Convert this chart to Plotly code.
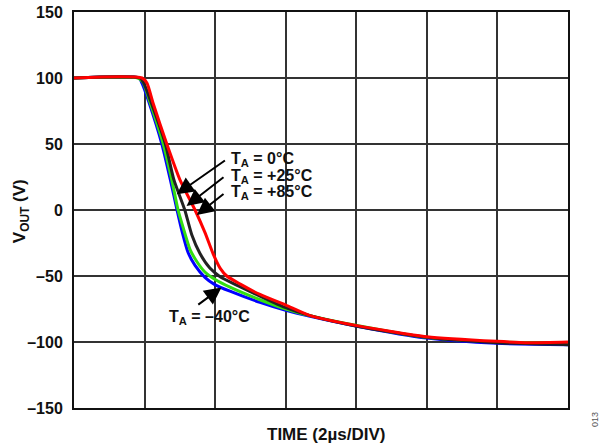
import plotly.graph_objects as go

# time in microseconds (2 µs per division), VOUT in volts
t_blue = [0, 1.84, 1.93, 2.12, 2.49, 2.73, 2.92, 3.06, 3.23, 3.43, 3.71, 3.99, 4.42, 5.27, 6.0, 6.69, 8.02, 10.0, 11.98, 14.0]
v_blue = [100, 100, 96, 82, 50, 23, 0, -16, -32, -42, -51, -56.5, -61.5, -70, -76, -80.5, -88, -97, -101, -102]

t_green = [0, 1.81, 1.95, 2.15, 2.53, 2.77, 2.95, 3.09, 3.29, 3.48, 3.71, 3.99, 4.42, 5.27, 6.0, 6.69, 8.02, 10.0, 11.98, 14.0]
v_green = [100, 100, 97, 82, 50, 23, 0, -13, -30, -39, -47, -52.5, -58.5, -68, -75, -80, -87.5, -96.5, -100, -101]

t_black = [0, 1.87, 1.98, 2.18, 2.59, 2.83, 3.14, 3.34, 3.57, 3.85, 4.14, 4.70, 6.0, 6.69, 8.02, 10.0, 11.98, 14.0]
v_black = [100, 100, 96, 82, 50, 23, 0, -19, -33, -44, -50.5, -58, -74, -80, -88, -96.5, -100.5, -102]

t_red = [0, 1.93, 2.07, 2.24, 2.63, 3.0, 3.43, 3.71, 3.94, 4.14, 4.33, 4.70, 5.27, 6.0, 6.69, 8.02, 10.0, 11.98, 12.9, 14.0]
v_red = [100, 100, 96, 81, 50, 23, 0, -17, -33, -44, -50, -56, -64, -72, -80, -87.6, -96, -99.5, -100.5, -100]

y_ticks = [150, 100, 50, 0, -50, -100, -150]
y_tick_text = ["150", "100", "50", "0", "–50", "–100", "–150"]

series = [
    ("–40°C", t_blue, v_blue, "#0000ff"),
    ("0°C", t_green, v_green, "#33dd11"),
    ("+25°C", t_black, v_black, "#222222"),
    ("+85°C", t_red, v_red, "#ff0000"),
]

FONT = "Liberation Sans, Arial, sans-serif"

fig = go.Figure()
for name, t, v, c in series:
    fig.add_trace(go.Scatter(x=t, y=v, mode="lines", name=name,
                             line=dict(color=c, width=3, shape="spline", smoothing=0.6)))

labels = [
    ("T<sub>A</sub> = 0°C", 4.39, 38.5, 2.91, 11.9, 4.32, 38.3),
    ("T<sub>A</sub> = +25°C", 4.39, 25.7, 3.19, 3.0, 4.28, 25.7),
    ("T<sub>A</sub> = +85°C", 4.39, 13.2, 3.48, -3.8, 4.28, 13.0),
    ("T<sub>A</sub> = –40°C", 2.63, -81.3, 4.18, -58.7, 3.48, -72.5),
]
for text, lx, ly, hx, hy, tx, ty in labels:
    fig.add_annotation(x=lx, y=ly, xref="x", yref="y", text="<b>" + text + "</b>",
                       showarrow=False, xanchor="left", yanchor="middle",
                       font=dict(family=FONT, size=16, color="#111"))
    fig.add_annotation(x=hx, y=hy, ax=tx, ay=ty, xref="x", yref="y", axref="x", ayref="y",
                       text="", showarrow=True, arrowhead=2, arrowsize=1.7, arrowwidth=2,
                       arrowcolor="#000")

fig.add_annotation(x=0.51, y=-0.0657, xref="paper", yref="paper", text="<b>TIME (2µs/DIV)</b>",
                   showarrow=False, xanchor="center", yanchor="middle",
                   font=dict(family=FONT, size=17, color="#111"))
fig.add_annotation(x=-0.107, y=0.4975, xref="paper", yref="paper", text="<b>V<sub>OUT</sub> (V)</b>",
                   showarrow=False, textangle=-90, xanchor="center", yanchor="middle",
                   font=dict(family=FONT, size=17, color="#111"))
fig.add_annotation(x=1.055, y=-0.03, xref="paper", yref="paper", text="013",
                   showarrow=False, textangle=-90, xanchor="center", yanchor="middle",
                   font=dict(family=FONT, size=9, color="#555"))

fig.update_xaxes(range=[0, 14], dtick=2, showticklabels=False, showgrid=True,
                 gridcolor="#333", gridwidth=1.5, zeroline=False, automargin=False,
                 showline=True, linecolor="#111", linewidth=2, mirror=True, ticks="")
fig.update_yaxes(range=[-150, 150], tickvals=y_ticks, ticktext=y_tick_text, showgrid=True,
                 gridcolor="#333", gridwidth=1.5, zeroline=False, automargin=False,
                 showline=True, linecolor="#111", linewidth=2, mirror=True, ticks="",
                 ticklabelstandoff=6,
                 tickfont=dict(family=FONT, size=16, color="#111", weight="bold"))

fig.update_layout(width=613, height=448, margin=dict(l=74, r=45, t=12, b=40, autoexpand=False),
                  plot_bgcolor="white", paper_bgcolor="white", showlegend=False)

fig.write_html("out.html", config={"displayModeBar": False},
               post_script="document.body.style.margin='0';document.body.style.overflow='hidden';")
